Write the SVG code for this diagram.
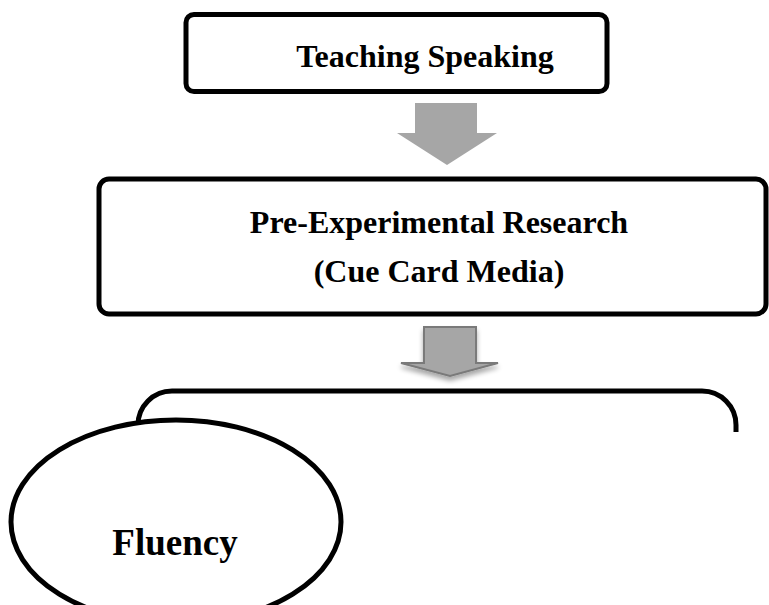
<svg xmlns="http://www.w3.org/2000/svg" width="769" height="605" viewBox="0 0 769 605">
  <style>
    .box { fill: #ffffff; stroke: #000000; stroke-width: 5; }
    .open { fill: none; stroke: #000000; stroke-width: 5; }
    .label { font-family: "Liberation Serif", "Times New Roman", serif; font-weight: bold; fill: #000000; text-anchor: middle; }
    .flow { fill: #a6a6a6; }
    .flow-edged { fill: #a6a6a6; stroke: #7a7a7a; stroke-width: 2; stroke-linejoin: miter; }
  </style>
  <defs>
    <filter id="soft-shadow" x="-20%" y="-20%" width="140%" height="160%">
      <feGaussianBlur in="SourceAlpha" stdDeviation="2.5"/>
      <feOffset dx="0" dy="4" result="blur"/>
      <feComponentTransfer><feFuncA type="linear" slope="0.35"/></feComponentTransfer>
      <feMerge><feMergeNode/><feMergeNode in="SourceGraphic"/></feMerge>
    </filter>
  </defs>

  <rect width="769" height="605" fill="#ffffff"/>

  <!-- block arrows between the stages -->
  <g id="connectors">
    <polygon class="flow" points="415,103 477,103 477,133 497,133 447,165 397,133 415,133"/>
    <polygon class="flow-edged" filter="url(#soft-shadow)" points="424,327 476,327 476,363 498,363 450,376 401,363 424,363"/>
  </g>

  <g id="teaching-speaking">
    <rect class="box" x="186" y="14.5" width="421" height="77" rx="8"/>
    <text class="label" x="425" y="67" font-size="32">Teaching Speaking</text>
  </g>

  <g id="pre-experimental-research">
    <rect class="box" x="99" y="179" width="667" height="135" rx="10"/>
    <text class="label" x="439" y="233" font-size="32">Pre-Experimental Research</text>
    <text class="label" x="439" y="282" font-size="32">(Cue Card Media)</text>
  </g>

  <g id="aspects">
    <path class="open" d="M138,440 L138,425 A34,34 0 0 1 172,391 L702,391 A34,34 0 0 1 736,425 L736,432"/>
  </g>

  <g id="fluency">
    <ellipse class="box" cx="176" cy="522" rx="165" ry="102"/>
    <text class="label" x="175" y="555" font-size="37">Fluency</text>
  </g>
</svg>
